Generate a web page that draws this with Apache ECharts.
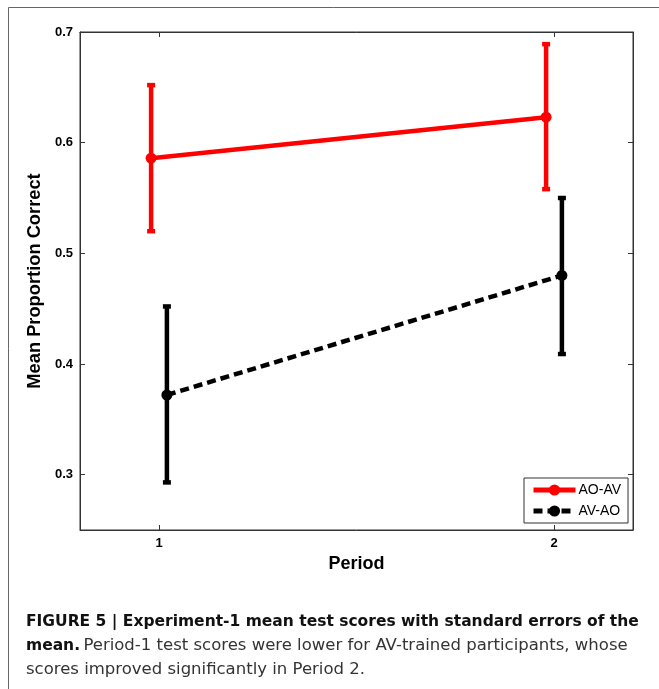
<!DOCTYPE html>
<html><head><meta charset="utf-8">
<script src="https://cdn.jsdelivr.net/npm/echarts@6/dist/echarts.min.js"></script>
<style>html,body{margin:0;padding:0;background:#fff}#c{width:659px;height:689px}</style>
</head><body><div id="c"></div>
<script>
// ---- data ----
var periods = [1, 2];
var groupOffset = 0.02;
var seriesNames = ['AO-AV', 'AV-AO'];
var aoavMean = [0.586, 0.623];
var aoavLow = [0.520, 0.558];
var aoavHigh = [0.652, 0.689];
var avaoMean = [0.372, 0.480];
var avaoLow = [0.293, 0.409];
var avaoHigh = [0.452, 0.550];
var yTicks = [0.3, 0.4, 0.5, 0.6, 0.7];
var xTicks = [1, 2];

var chart = echarts.init(document.getElementById('c'), null, {renderer: 'canvas'});

function pts(off, vals) { return periods.map(function (p, i) { return [p + off, vals[i]]; }); }
function errs(off, lo, hi) { return periods.map(function (p, i) { return [p + off, lo[i], hi[i]]; }); }

function errRender(color) {
  return function (params, api) {
    var x = api.value(0);
    var a = api.coord([x, api.value(1)]);
    var b = api.coord([x, api.value(2)]);
    var cw = 4;
    var st = {stroke: color, lineWidth: 4.5};
    return {type: 'group', children: [
      {type: 'line', shape: {x1: a[0], y1: a[1], x2: b[0], y2: b[1]}, style: st},
      {type: 'line', shape: {x1: a[0] - cw, y1: a[1], x2: a[0] + cw, y2: a[1]}, style: st},
      {type: 'line', shape: {x1: b[0] - cw, y1: b[1], x2: b[0] + cw, y2: b[1]}, style: st}
    ]};
  };
}

var FF = 'Liberation Sans, Arial, sans-serif';
var axisFont = {fontFamily: FF, fontWeight: 'bold', fontSize: 13, color: '#000'};
var lineC = '#333';

chart.setOption({
  animation: false,
  backgroundColor: '#fff',
  grid: {left: 80, top: 32, width: 553, height: 498, show: true, borderColor: lineC, borderWidth: 1},
  legend: {
    left: 524, top: 478, orient: 'vertical', padding: [5, 7, 5, 7], itemGap: 7,
    itemWidth: 42, itemHeight: 14,
    borderColor: lineC, borderWidth: 1, backgroundColor: '#fff',
    lineStyle: {width: 5},
    textStyle: {fontFamily: FF, fontSize: 14, color: '#000', padding: [0, 0, 0, -2]},
    data: seriesNames
  },
  xAxis: [{
    type: 'value', min: 0.8, max: 2.2, position: 'bottom',
    name: 'Period', nameLocation: 'middle', nameGap: 24,
    nameTextStyle: {fontFamily: FF, fontWeight: 'bold', fontSize: 18, color: '#000'},
    axisLine: {show: true, lineStyle: {color: lineC}},
    axisTick: {show: true, inside: true, length: 5, customValues: xTicks, lineStyle: {color: lineC}},
    axisLabel: Object.assign({customValues: xTicks, margin: 7}, axisFont),
    splitLine: {show: false}
  }, {
    type: 'value', min: 0.8, max: 2.2, position: 'top',
    axisLine: {show: true, lineStyle: {color: lineC}},
    axisTick: {show: true, inside: true, length: 5, customValues: xTicks, lineStyle: {color: lineC}},
    axisLabel: {show: false}, splitLine: {show: false}
  }],
  yAxis: [{
    type: 'value', min: 0.25, max: 0.7, position: 'left',
    name: 'Mean Proportion Correct', nameLocation: 'middle', nameGap: 36, nameRotate: 90,
    nameTextStyle: {fontFamily: FF, fontWeight: 'bold', fontSize: 18.3, color: '#000'},
    axisLine: {show: true, lineStyle: {color: lineC}},
    axisTick: {show: true, inside: true, length: 5, customValues: yTicks, lineStyle: {color: lineC}},
    axisLabel: Object.assign({customValues: yTicks, margin: 7, formatter: function (v) { return v.toFixed(1); }}, axisFont),
    splitLine: {show: false}
  }, {
    type: 'value', min: 0.25, max: 0.7, position: 'right',
    axisLine: {show: true, lineStyle: {color: lineC}},
    axisTick: {show: true, inside: true, length: 5, customValues: yTicks, lineStyle: {color: lineC}},
    axisLabel: {show: false}, splitLine: {show: false}
  }],
  graphic: [
    {type: 'line', shape: {x1: 8.5, y1: 7.5, x2: 8.5, y2: 689}, style: {stroke: '#666', lineWidth: 1}},
    {type: 'line', shape: {x1: 8.5, y1: 7.5, x2: 659, y2: 7.5}, style: {stroke: '#666', lineWidth: 1}},
    {type: 'text', left: 26, top: 610, style: {
      text: '{b|FIGURE 5 | Experiment-1 mean test scores with standard errors of the}\n{b|mean.} {r|Period-1 test scores were lower for AV-trained participants, whose}\n{r|scores improved significantly in Period 2.}',
      lineHeight: 24,
      rich: {
        b: {fontFamily: 'DejaVu Sans, sans-serif', fontWeight: 'bold', fontSize: 15.5, fill: '#111', lineHeight: 24},
        r: {fontFamily: 'DejaVu Sans, sans-serif', fontSize: 16.5, fill: '#333', lineHeight: 24}
      }
    }}
  ],
  series: [
    {type: 'custom', name: 'errAOAV', renderItem: errRender('#ff0000'), data: errs(-groupOffset, aoavLow, aoavHigh), z: 3, silent: true},
    {type: 'custom', name: 'errAVAO', renderItem: errRender('#000'), data: errs(groupOffset, avaoLow, avaoHigh), z: 3, silent: true},
    {type: 'line', name: seriesNames[0], data: pts(-groupOffset, aoavMean), symbol: 'circle', symbolSize: 11,
      itemStyle: {color: '#ff0000'}, lineStyle: {color: '#ff0000', width: 4.5}, z: 4},
    {type: 'line', name: seriesNames[1], data: pts(groupOffset, avaoMean), symbol: 'circle', symbolSize: 11,
      itemStyle: {color: '#000'}, lineStyle: {color: '#000', width: 4.5, type: [9, 5]}, z: 4}
  ]
});
</script></body></html>
